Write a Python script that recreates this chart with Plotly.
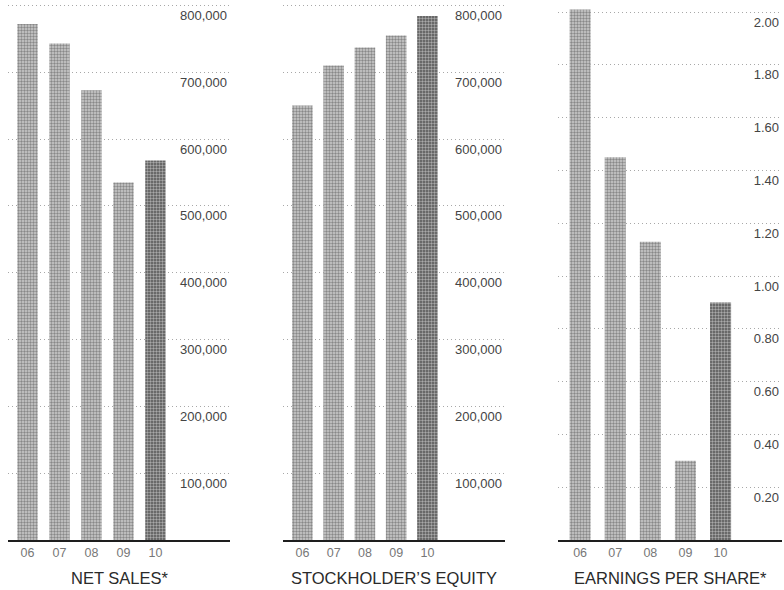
import plotly.graph_objects as go

# ---- data ----
years = ["06", "07", "08", "09", "10"]
net_sales = [772000, 743000, 673000, 535000, 568000]
equity = [650000, 710000, 737000, 755000, 784000]
eps = [2.01, 1.45, 1.13, 0.30, 0.90]

money_ticks = [100000, 200000, 300000, 400000, 500000, 600000, 700000, 800000]
eps_ticks = [0.20, 0.40, 0.60, 0.80, 1.00, 1.20, 1.40, 1.60, 1.80, 2.00]

titles = ["NET SALES*", "STOCKHOLDER\u2019S EQUITY", "EARNINGS PER SHARE*"]

# ---- style ----
W, H = 784, 590
LIGHT_BG, LIGHT_FG = "#cdcdcd", "#959595"
DARK_BG, DARK_FG = "#535353", "#242424"

def px_x(a, b):
    return [a / W, b / W]

y_dom = [(H - 540) / H, (H - 2) / H]
x_doms = [px_x(8, 230), px_x(283, 505), px_x(558, 782)]
x_ranges = [[-0.61, 6.33], [-0.62, 6.48], [-0.63, 5.75]]
bar_widths = [0.64, 0.66, 0.60]
y_ranges = [[0, 805000], [0, 805000], [0, 2.038]]
series = [net_sales, equity, eps]
tick_sets = [money_ticks, money_ticks, eps_ticks]
tick_fmts = [",", ",", ".2f"]

bg_colors = [LIGHT_BG] * (len(years) - 1) + [DARK_BG]
fg_colors = [LIGHT_FG] * (len(years) - 1) + [DARK_FG]

fig = go.Figure()
layout = dict(
    width=W, height=H,
    margin=dict(l=0, r=0, t=0, b=0),
    paper_bgcolor="white", plot_bgcolor="white",
    showlegend=False,
    annotations=[],
)

for i in range(3):
    xa = "x" if i == 0 else f"x{i+1}"
    ya = "y" if i == 0 else f"y{i+1}"
    fig.add_trace(go.Bar(
        x=years, y=series[i], xaxis=xa, yaxis=ya,
        width=bar_widths[i],
        marker=dict(
            color=bg_colors,
            line=dict(width=0),
            pattern=dict(shape=".", fgcolor=fg_colors, bgcolor=bg_colors,
                         size=3, solidity=0.5),
        ),
        hoverinfo="skip",
    ))
    xkey = "xaxis" if i == 0 else f"xaxis{i+1}"
    ykey = "yaxis" if i == 0 else f"yaxis{i+1}"
    layout[xkey] = dict(
        domain=x_doms[i], anchor=ya, type="category",
        range=x_ranges[i], showgrid=False, zeroline=False,
        showline=True, linecolor="#1e1e1e", linewidth=2,
        ticks="", tickfont=dict(family="Liberation Sans, Arial, sans-serif",
                                size=12.5, color="#777777"),
        fixedrange=True,
    )
    layout[ykey] = dict(
        domain=y_dom, anchor=xa, side="right", range=y_ranges[i],
        tickvals=tick_sets[i], tickformat=tick_fmts[i],
        ticklabelposition="inside", ticklabelshift=10,
        ticks="", showline=False, zeroline=False,
        showgrid=True, gridcolor="#a8a8a8", griddash="1px,3px", gridwidth=1,
        tickfont=dict(family="Liberation Sans, Arial, sans-serif",
                      size=13, color="#444444"),
        fixedrange=True,
    )
    layout["annotations"].append(dict(
        text=titles[i], xref=f"{xa} domain", x=0.5, xanchor="center",
        yref="paper", y=(H - 578) / H, yanchor="middle", showarrow=False,
        font=dict(family="Liberation Sans Narrow, Arial Narrow, sans-serif",
                  size=16.5, color="#2a2a2a"),
    ))

fig.update_layout(**layout)
fig.write_html("out.html",
               config={"displayModeBar": False, "staticPlot": True},
               post_script="document.body.style.margin='0';"
                           "document.body.style.overflow='hidden';")
